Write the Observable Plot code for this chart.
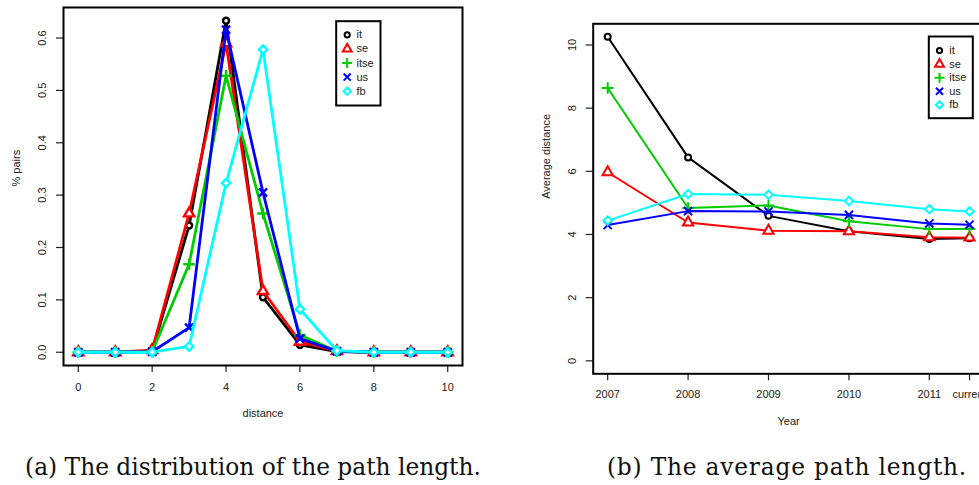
<!DOCTYPE html>
<html>
<head>
<meta charset="utf-8">
<script src="https://cdn.jsdelivr.net/npm/d3@7"></script>
<script src="https://cdn.jsdelivr.net/npm/@observablehq/plot@0.6"></script>
<style>
  html, body { margin: 0; padding: 0; background: #fff; overflow: hidden; width: 979px; height: 485px; }
  .panel { position: absolute; top: 0; width: 480px; height: 440px; }
  .panel svg { max-width: none !important; }
  #panel-a { left: 0; }
  #panel-b { left: 520px; }
  .cap {
    position: absolute; top: 455px; white-space: nowrap; transform: translateX(-50%);
    font-family: "DejaVu Serif", serif; font-size: 23.3px; line-height: 23px; color: #111;
  }
</style>
</head>
<body>
<div id="panel-a" class="panel"></div>
<div id="panel-b" class="panel"></div>
<div class="cap" style="left:253px">(a) The distribution of the path length.</div>
<div class="cap" style="left:787px; letter-spacing:0.8px">(b) The average path length.</div>
<script>
// Series shared by both panels, in drawing order
const series  = ["it", "se", "itse", "us", "fb"];
const colors  = ["black", "red", "#00cd00", "blue", "cyan"];
const symbols = ["circle", "triangle", "plus", "times", "diamond2"];

// (a) share of pairs at each distance
const distance  = [0, 1, 2, 3, 4, 5, 6, 7, 8, 9, 10];
const pairsIt   = [0, 0, 0.002, 0.242, 0.633, 0.105, 0.014, 0.001, 0, 0, 0];
const pairsSe   = [0, 0, 0.004, 0.265, 0.590, 0.117, 0.020, 0.002, 0, 0, 0];
const pairsItse = [0, 0, 0.001, 0.168, 0.528, 0.265, 0.033, 0.002, 0, 0, 0];
const pairsUs   = [0, 0, 0.001, 0.047, 0.616, 0.305, 0.026, 0.002, 0, 0, 0];
const pairsFb   = [0, 0, 0.000, 0.011, 0.323, 0.578, 0.082, 0.003, 0, 0, 0];
const distTicks = [0, 2, 4, 6, 8, 10];
const pairTicks = [0, 0.1, 0.2, 0.3, 0.4, 0.5, 0.6];

// (b) average distance per snapshot
const yearLabels = ["2007", "2008", "2009", "2010", "2011", "current"];
const yearPos    = [2007, 2008, 2009, 2010, 2011, 2011.5];
const avgIt   = [10.26, 6.44, 4.59, 4.10, 3.86, 3.88];
const avgSe   = [5.97, 4.38, 4.12, 4.10, 3.91, 3.90];
const avgItse = [8.64, 4.84, 4.92, 4.42, 4.17, 4.17];
const avgUs   = [4.30, 4.74, 4.73, 4.62, 4.35, 4.31];
const avgFb   = [4.44, 5.28, 5.26, 5.06, 4.80, 4.73];
const avgTicks = [0, 2, 4, 6, 8, 10];

function longRows(xs, columns) {
  const rows = [];
  series.forEach((s, k) => columns[k].forEach((v, i) => rows.push({series: s, x: xs[i], y: v})));
  return rows;
}

// R-style 4% padding on both ends of a range
function padded(lo, hi) {
  const d = (hi - lo) * 0.04;
  return [lo - d, hi + d];
}

function panel(cfg) {
  const marks = [
    Plot.axisX(cfg.xTicks, {tickSize: 7, fill: "none", stroke: "#222", strokeWidth: 1.2, label: null}),
    Plot.axisY(cfg.yTicks, {tickSize: 7, fill: "none", stroke: "#222", strokeWidth: 1.2, label: null}),
    Plot.text(cfg.xTicks, {x: d => d, text: (d, i) => cfg.xLabels[i], frameAnchor: "bottom", dy: cfg.xLabelDy, lineAnchor: "middle", fill: "#222"}),
    Plot.text(cfg.yTicks, {y: d => d, text: cfg.yFormat, frameAnchor: "left", dx: -21, rotate: -90, textAnchor: "middle", lineAnchor: "middle", fill: "#222"}),
    Plot.text([cfg.xTitle], {text: d => d, frameAnchor: "bottom", dy: 48, lineAnchor: "middle", fill: "#222"}),
    Plot.text([cfg.yTitle], {text: d => d, frameAnchor: "left", dx: -47, rotate: -90, lineAnchor: "middle", fill: "#222"})
  ];
  series.forEach((s, k) => {
    const data = cfg.rows.filter(r => r.series === s);
    marks.push(Plot.line(data, {x: "x", y: "y", stroke: colors[k], strokeWidth: cfg.lineWidth}));
    marks.push(Plot.dot(data, {x: "x", y: "y", symbol: symbols[k], stroke: colors[k], fill: "white",
      strokeWidth: cfg.dotStroke, r: symbols[k] === "circle" ? 3 : 3.8}));
  });
  marks.push(Plot.frame({stroke: "black", strokeWidth: 2}));
  // legend box and entries
  const L = cfg.legend;
  marks.push(Plot.frame({stroke: "black", strokeWidth: 2, fill: "white",
    insetLeft: L.inset[0], insetTop: L.inset[1], insetRight: L.inset[2], insetBottom: L.inset[3]}));
  series.forEach((s, k) => {
    marks.push(Plot.dot([s], {frameAnchor: "top-left", dx: L.symbolDx, dy: L.dy0 + k * L.step,
      symbol: symbols[k], stroke: colors[k], fill: "white", strokeWidth: 2, r: symbols[k] === "circle" ? 2.6 : 3.3}));
    marks.push(Plot.text([s], {text: d => d, frameAnchor: "top-left", dx: L.textDx, dy: L.dy0 + k * L.step,
      textAnchor: "start", lineAnchor: "middle", fill: "#222"}));
  });
  return Plot.plot({
    width: cfg.width, height: cfg.height,
    marginLeft: cfg.margin[0], marginTop: cfg.margin[1], marginRight: cfg.margin[2], marginBottom: cfg.margin[3],
    x: {domain: cfg.xDomain, axis: null},
    y: {domain: cfg.yDomain, axis: null},
    style: {fontFamily: "'Liberation Sans', Arial, sans-serif", fontSize: "11px", background: "transparent", overflow: "visible", maxWidth: "none"},
    marks
  });
}

const pairsRows = longRows(distance, [pairsIt, pairsSe, pairsItse, pairsUs, pairsFb]);
const avgRows = longRows(yearPos, [avgIt, avgSe, avgItse, avgUs, avgFb]);

document.getElementById("panel-a").append(panel({
  width: 480, height: 440, margin: [63, 7, 18, 75],
  xDomain: padded(0, 10),
  yDomain: padded(0, d3.max(pairsRows, r => r.y)),
  xTicks: distTicks, xLabels: distTicks.map(String), xLabelDy: 22,
  yTicks: pairTicks, yFormat: d => d.toFixed(1),
  xTitle: "distance", yTitle: "% pairs",
  rows: pairsRows, lineWidth: 2.8, dotStroke: 2.4,
  legend: {inset: [272.7, 13.7, 82, 260], symbolDx: 283.7, textDx: 293, dy0: 27.3, step: 14.1}
}));

document.getElementById("panel-b").append(panel({
  width: 480, height: 440, margin: [72.7, 23.3, 16.5, 66.7],
  xDomain: padded(2007, 2011.5),
  yDomain: padded(0, d3.max(avgRows, r => r.y)),
  xTicks: yearPos, xLabels: yearLabels, xLabelDy: 21,
  yTicks: avgTicks, yFormat: d => String(d),
  xTitle: "Year", yTitle: "Average distance",
  rows: avgRows, lineWidth: 2, dotStroke: 2,
  legend: {inset: [335.6, 12.7, 11.2, 255.6], symbolDx: 346.3, textDx: 356, dy0: 26.7, step: 13.6}
}));
</script>
</body>
</html>
